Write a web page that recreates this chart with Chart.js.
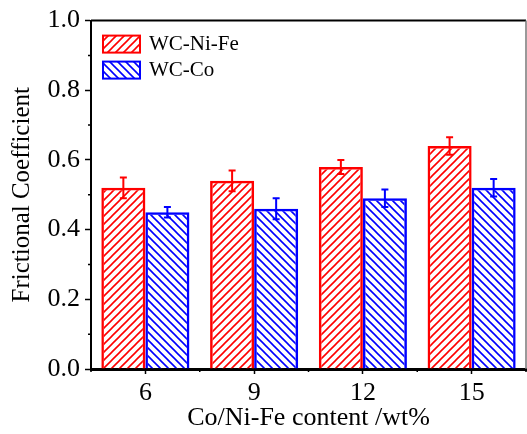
<!DOCTYPE html>
<html>
<head>
<meta charset="utf-8">
<script src="https://cdn.jsdelivr.net/npm/chart.js@4.4.0/dist/chart.umd.min.js"></script>
<style>
  html, body { margin: 0; padding: 0; background: #fff; }
  #wrap { width: 527px; height: 434px; position: relative; }
</style>
</head>
<body>
<div id="wrap"><canvas id="frictionChart"></canvas></div>
<script>
// --- DATA ---
const categories = ['6', '9', '12', '15'];
const niFeValues = [0.52, 0.54, 0.58, 0.64];
const niFeErrors = [0.03, 0.03, 0.02, 0.025];
const coValues = [0.45, 0.46, 0.49, 0.52];
const coErrors = [0.015, 0.03, 0.025, 0.025];
const yMinorTicks = [0.1, 0.3, 0.5, 0.7, 0.9];

const RED = '#ff0000';
const BLUE = '#0000ff';
const FONT = "'Liberation Serif', 'Times New Roman', serif";

Chart.defaults.font.family = FONT;
Chart.defaults.color = '#000';

// hatch pattern, '/' or '\'
function makeHatch(color, dir) {
    const c = document.createElement('canvas');
    c.width = 8; c.height = 8;
    const ctx = c.getContext('2d');
    ctx.strokeStyle = color;
    ctx.lineWidth = 1.6;
    ctx.beginPath();
    if (dir === '/') {
        ctx.moveTo(-1, 9); ctx.lineTo(9, -1);
        ctx.moveTo(-3, 3); ctx.lineTo(3, -3);
        ctx.moveTo(5, 11); ctx.lineTo(11, 5);
    } else {
        ctx.moveTo(-1, -1); ctx.lineTo(9, 9);
        ctx.moveTo(-3, 5); ctx.lineTo(3, 11);
        ctx.moveTo(5, -3); ctx.lineTo(11, 3);
    }
    ctx.stroke();
    return ctx.createPattern(c, 'repeat');
}

const redHatch = makeHatch(RED, '/');
const blueHatch = makeHatch(BLUE, '\\');

// error bars drawn on top of the bars
const errorBarPlugin = {
    id: 'errorBars',
    afterDatasetsDraw(chart) {
        const ctx = chart.ctx;
        const yScale = chart.scales.y;
        chart.data.datasets.forEach((ds, i) => {
            const meta = chart.getDatasetMeta(i);
            ctx.save();
            ctx.strokeStyle = ds.borderColor;
            ctx.lineWidth = 2;
            meta.data.forEach((bar, j) => {
                const v = ds.data[j];
                const e = ds.errors[j];
                const yTop = yScale.getPixelForValue(v + e);
                const yBot = yScale.getPixelForValue(v - e);
                const x = bar.x;
                ctx.beginPath();
                ctx.moveTo(x, yTop); ctx.lineTo(x, yBot);
                ctx.moveTo(x - 3.5, yTop); ctx.lineTo(x + 3.5, yTop);
                ctx.moveTo(x - 3.5, yBot); ctx.lineTo(x + 3.5, yBot);
                ctx.stroke();
            });
            ctx.restore();
        });
    }
};

// frame, minor ticks and legend
const framePlugin = {
    id: 'frame',
    afterDraw(chart) {
        const ctx = chart.ctx;
        const area = chart.chartArea;
        const x = chart.scales.x;
        const y = chart.scales.y;
        ctx.save();
        // top + right frame
        ctx.strokeStyle = '#000';
        ctx.lineWidth = 2;
        ctx.beginPath();
        ctx.moveTo(area.left, area.top); ctx.lineTo(area.right, area.top);
        ctx.stroke();
        ctx.strokeStyle = '#777';
        ctx.lineWidth = 1.5;
        ctx.beginPath();
        ctx.moveTo(area.right, area.top); ctx.lineTo(area.right, area.bottom);
        ctx.stroke();

        // minor ticks
        ctx.strokeStyle = '#000';
        ctx.lineWidth = 1.5;
        ctx.beginPath();
        yMinorTicks.forEach(v => {
            const py = y.getPixelForValue(v);
            ctx.moveTo(area.left - 3, py); ctx.lineTo(area.left, py);
        });
        for (let k = 0; k <= categories.length; k++) {
            const px = x.getPixelForValue(k - 0.5);
            ctx.moveTo(px, area.bottom); ctx.lineTo(px, area.bottom + 3);
        }
        ctx.stroke();

        // legend
        const boxX = area.left + 12;
        let boxY = area.top + 15;
        chart.data.datasets.forEach(ds => {
            ctx.fillStyle = ds.backgroundColor;
            ctx.fillRect(boxX, boxY, 37, 17);
            ctx.strokeStyle = ds.borderColor;
            ctx.lineWidth = 2;
            ctx.strokeRect(boxX, boxY, 37, 17);
            ctx.fillStyle = '#000';
            ctx.font = '21px ' + FONT;
            ctx.textBaseline = 'middle';
            ctx.textAlign = 'left';
            ctx.fillText(ds.label, boxX + 46, boxY + 9);
            boxY += 26;
        });
        ctx.restore();
    }
};

new Chart(document.getElementById('frictionChart').getContext('2d'), {
    type: 'bar',
    data: {
        labels: categories,
        datasets: [{
            label: 'WC-Ni-Fe',
            data: niFeValues,
            errors: niFeErrors,
            backgroundColor: redHatch,
            borderColor: RED,
            borderWidth: 2.5
        }, {
            label: 'WC-Co',
            data: coValues,
            errors: coErrors,
            backgroundColor: blueHatch,
            borderColor: BLUE,
            borderWidth: 2.5
        }]
    },
    options: {
        responsive: true,
        maintainAspectRatio: false,
        animation: false,
        layout: { padding: { top: 16, right: 1, left: 0, bottom: 0 } },
        categoryPercentage: 0.81,
        barPercentage: 1.0,
        plugins: {
            legend: { display: false },
            tooltip: { enabled: false }
        },
        scales: {
            x: {
                offset: true,
                grid: { display: true, drawOnChartArea: false, offset: false, tickLength: 5, tickColor: '#000', tickWidth: 1.5 },
                border: { color: '#000', width: 3 },
                ticks: { font: { size: 26 }, padding: 4, color: '#000', maxRotation: 0 },
                title: { display: true, text: 'Co/Ni-Fe content /wt%', font: { size: 26 }, color: '#000', padding: { top: -3, bottom: 0 } },
                afterFit(scale) { scale.height = 65; }
            },
            y: {
                min: 0,
                max: 1.0,
                ticks: { stepSize: 0.2, font: { size: 26 }, padding: 5, color: '#000', callback: v => v.toFixed(1) },
                grid: { display: true, drawOnChartArea: false, tickLength: 6, tickColor: '#000', tickWidth: 1.5 },
                border: { color: '#000', width: 2 },
                title: { display: true, text: 'Frictional Coefficient', font: { size: 25 }, color: '#000', padding: { top: 7, bottom: 0 } },
                afterFit(scale) { scale.width = 91; }
            }
        }
    },
    plugins: [errorBarPlugin, framePlugin]
});
</script>
</body>
</html>
